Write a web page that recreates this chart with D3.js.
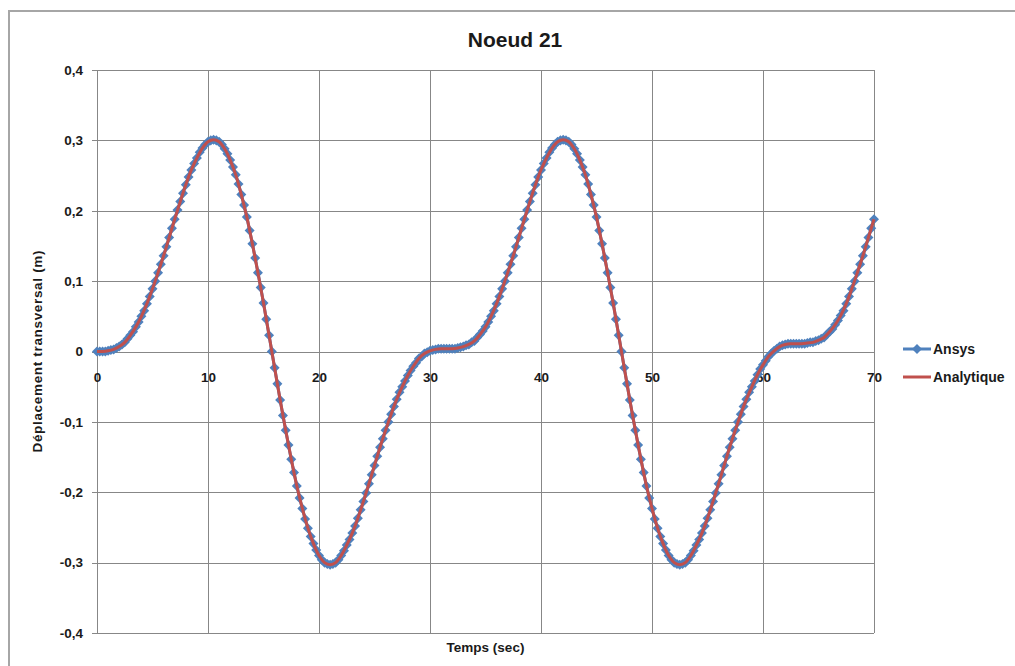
<!DOCTYPE html>
<html>
<head>
<meta charset="utf-8">
<script src="https://cdn.jsdelivr.net/npm/d3@7"></script>
<style>
  body { margin: 0; background: #fff; }
  svg text { font-family: 'Liberation Sans', Arial, sans-serif; font-weight: bold; fill: #1a1a1a; }
</style>
</head>
<body>
<script>
// Déplacement transversal, noeud 21
const title = 'Noeud 21';
const xTitle = 'Temps (sec)';
const yTitle = 'Déplacement transversal (m)';
const xTicks = [0, 10, 20, 30, 40, 50, 60, 70];
const yTicks = [-0.4, -0.3, -0.2, -0.1, 0, 0.1, 0.2, 0.3, 0.4];
const seriesNames = ['Ansys', 'Analytique'];

// Ansys : un point toutes les 0,25 s de 0 à 70 s
const ansysStep = 0.25;
const ansys = [
  0.000, 0.000, 0.000, 0.000, 0.001, 0.002, 0.003, 0.005, 0.007, 0.010,
  0.013, 0.018, 0.023, 0.028, 0.035, 0.042, 0.050, 0.058, 0.068, 0.078,
  0.089, 0.100, 0.112, 0.124, 0.136, 0.149, 0.162, 0.175, 0.188, 0.201,
  0.213, 0.225, 0.237, 0.248, 0.258, 0.267, 0.275, 0.283, 0.289, 0.294,
  0.298, 0.300, 0.301, 0.300, 0.298, 0.294, 0.288, 0.281, 0.272, 0.262,
  0.251, 0.238, 0.223, 0.208, 0.191, 0.172, 0.153, 0.133, 0.112, 0.091,
  0.069, 0.046, 0.023, 0.000, -0.023, -0.046, -0.069, -0.091, -0.112, -0.133,
  -0.153, -0.172, -0.191, -0.208, -0.223, -0.238, -0.251, -0.263, -0.273, -0.282,
  -0.290, -0.296, -0.300, -0.302, -0.303, -0.302, -0.300, -0.296, -0.290, -0.283,
  -0.275, -0.267, -0.258, -0.248, -0.237, -0.225, -0.213, -0.201, -0.188, -0.175,
  -0.162, -0.149, -0.136, -0.124, -0.112, -0.100, -0.089, -0.078, -0.068, -0.058,
  -0.050, -0.042, -0.034, -0.027, -0.021, -0.016, -0.010, -0.007, -0.003, -0.001,
  0.001, 0.002, 0.003, 0.004, 0.004, 0.004, 0.004, 0.004, 0.004, 0.004,
  0.005, 0.006, 0.007, 0.009, 0.010, 0.013, 0.015, 0.020, 0.024, 0.029,
  0.035, 0.042, 0.050, 0.058, 0.068, 0.078, 0.089, 0.100, 0.112, 0.124,
  0.136, 0.149, 0.162, 0.175, 0.188, 0.201, 0.213, 0.225, 0.237, 0.248,
  0.258, 0.267, 0.275, 0.283, 0.289, 0.294, 0.298, 0.300, 0.301, 0.300,
  0.298, 0.294, 0.288, 0.281, 0.272, 0.262, 0.251, 0.238, 0.223, 0.208,
  0.191, 0.172, 0.153, 0.133, 0.112, 0.091, 0.069, 0.046, 0.023, 0.000,
  -0.023, -0.046, -0.069, -0.091, -0.112, -0.133, -0.153, -0.172, -0.191, -0.208,
  -0.223, -0.238, -0.251, -0.263, -0.273, -0.282, -0.290, -0.296, -0.300, -0.302,
  -0.303, -0.302, -0.300, -0.296, -0.290, -0.283, -0.275, -0.267, -0.258, -0.248,
  -0.237, -0.225, -0.213, -0.201, -0.188, -0.175, -0.162, -0.149, -0.136, -0.124,
  -0.112, -0.100, -0.089, -0.078, -0.068, -0.058, -0.050, -0.042, -0.033, -0.025,
  -0.019, -0.013, -0.007, -0.003, 0.001, 0.004, 0.007, 0.009, 0.010, 0.011,
  0.011, 0.011, 0.011, 0.011, 0.011, 0.011, 0.012, 0.013, 0.013, 0.015,
  0.016, 0.018, 0.020, 0.024, 0.028, 0.032, 0.038, 0.044, 0.051, 0.058,
  0.068, 0.078, 0.089, 0.100, 0.112, 0.124, 0.136, 0.149, 0.162, 0.175,
  0.188
];

// Analytique : un point toutes les 0,5 s
const analytiqueStep = 0.5;
const analytique = [
  0.000, 0.000, 0.001, 0.003, 0.007, 0.013, 0.023, 0.035, 0.050, 0.068,
  0.089, 0.112, 0.136, 0.162, 0.188, 0.213, 0.237, 0.258, 0.275, 0.289,
  0.298, 0.301, 0.298, 0.288, 0.272, 0.251, 0.223, 0.191, 0.153, 0.112,
  0.069, 0.023, -0.023, -0.069, -0.112, -0.153, -0.191, -0.223, -0.251, -0.273,
  -0.290, -0.300, -0.303, -0.300, -0.290, -0.275, -0.258, -0.237, -0.213, -0.188,
  -0.162, -0.136, -0.112, -0.089, -0.068, -0.050, -0.034, -0.021, -0.010, -0.003,
  0.001, 0.003, 0.004, 0.004, 0.004, 0.005, 0.007, 0.010, 0.015, 0.024,
  0.035, 0.050, 0.068, 0.089, 0.112, 0.136, 0.162, 0.188, 0.213, 0.237,
  0.258, 0.275, 0.289, 0.298, 0.301, 0.298, 0.288, 0.272, 0.251, 0.223,
  0.191, 0.153, 0.112, 0.069, 0.023, -0.023, -0.069, -0.112, -0.153, -0.191,
  -0.223, -0.251, -0.273, -0.290, -0.300, -0.303, -0.300, -0.290, -0.275, -0.258,
  -0.237, -0.213, -0.188, -0.162, -0.136, -0.112, -0.089, -0.068, -0.050, -0.033,
  -0.019, -0.007, 0.001, 0.007, 0.010, 0.011, 0.011, 0.011, 0.012, 0.013,
  0.016, 0.020, 0.028, 0.038, 0.051, 0.068, 0.089, 0.112, 0.136, 0.162,
  0.188
];

const width = 1015;
const height = 666;
const plot = { left: 97, right: 874, top: 70, bottom: 633 };
const blue = '#4f81bd';
const red = '#c0504d';
const grid = '#878787';

const svg = d3.select('body')
  .append('svg')
  .attr('width', width)
  .attr('height', height);

svg.append('rect')
  .attr('width', width)
  .attr('height', height)
  .attr('fill', '#fff');

// Chart frame
svg.append('rect')
  .attr('x', 9)
  .attr('y', 11)
  .attr('width', width + 20)
  .attr('height', height + 20)
  .attr('fill', 'none')
  .attr('stroke', '#a6a6a6')
  .attr('stroke-width', 2);

const x = d3.scaleLinear().domain([0, 70]).range([plot.left, plot.right]);
const y = d3.scaleLinear().domain([-0.4, 0.4]).range([plot.bottom, plot.top]);

// Grid
const gx = svg.append('g')
  .attr('transform', `translate(0, ${plot.bottom})`)
  .call(d3.axisBottom(x).tickValues(xTicks).tickSize(-(plot.bottom - plot.top)).tickFormat(''));
const gy = svg.append('g')
  .attr('transform', `translate(${plot.left}, 0)`)
  .call(d3.axisLeft(y).tickValues(yTicks).tickSize(-(plot.right - plot.left)).tickFormat(''));
[gx, gy].forEach(g => {
  g.select('.domain').remove();
  g.selectAll('line').attr('stroke', grid).attr('stroke-width', 1).attr('shape-rendering', 'crispEdges');
});

// Y axis with ticks and labels (virgule décimale, tiret simple)
const fmt = d => d === 0 ? '0' : d3.format('.1f')(d).replace('.', ',').replace('\u2212', '-');
const yAxis = svg.append('g')
  .attr('transform', `translate(${plot.left}, 0)`)
  .call(d3.axisLeft(y).tickValues(yTicks).tickSize(5).tickPadding(9).tickFormat(fmt));
yAxis.select('.domain').attr('stroke', grid).attr('shape-rendering', 'crispEdges');
yAxis.selectAll('line').attr('stroke', grid).attr('shape-rendering', 'crispEdges');
yAxis.selectAll('text')
  .style('font-size', '13.5px')
  .attr('fill', '#1a1a1a');

// X axis crossing at zero
const xAxis = svg.append('g')
  .attr('transform', `translate(0, ${y(0)})`)
  .call(d3.axisBottom(x).tickValues(xTicks).tickSize(0).tickPadding(21).tickFormat(d3.format('d')));
xAxis.select('.domain').attr('stroke', grid).attr('shape-rendering', 'crispEdges');
xAxis.selectAll('text')
  .style('font-size', '13.5px')
  .attr('fill', '#1a1a1a');

// Series
const ansysPts = ansys.map((v, i) => [i * ansysStep, v]);
const analytiquePts = analytique.map((v, i) => [i * analytiqueStep, v]);

const line = d3.line()
  .x(d => x(d[0]))
  .y(d => y(d[1]));

svg.append('path')
  .datum(ansysPts)
  .attr('fill', 'none')
  .attr('stroke', blue)
  .attr('stroke-width', 3)
  .attr('d', line);

const diamond = d3.symbol().type(d3.symbolDiamond2).size(64);

svg.append('g')
  .selectAll('path')
  .data(ansysPts)
  .enter()
  .append('path')
  .attr('transform', d => `translate(${x(d[0])}, ${y(d[1])})`)
  .attr('d', diamond)
  .attr('fill', blue);

svg.append('path')
  .datum(analytiquePts)
  .attr('fill', 'none')
  .attr('stroke', red)
  .attr('stroke-width', 3)
  .attr('d', line.curve(d3.curveCatmullRom));

// Titles
svg.append('text')
  .attr('x', 515)
  .attr('y', 47)
  .attr('text-anchor', 'middle')
  .style('font-size', '21px')
  .text(title);

svg.append('text')
  .attr('x', (plot.left + plot.right) / 2)
  .attr('y', 652)
  .attr('text-anchor', 'middle')
  .style('font-size', '13.5px')
  .text(xTitle);

svg.append('text')
  .attr('transform', `translate(42, ${y(0)}) rotate(-90)`)
  .attr('text-anchor', 'middle')
  .attr('textLength', 202)
  .attr('lengthAdjust', 'spacing')
  .style('font-size', '13.5px')
  .text(yTitle);

// Legend
const leg = svg.append('g').attr('id', 'legend');
const legY = [349, 377];
const legColors = [blue, red];

seriesNames.forEach((name, i) => {
  leg.append('line')
    .attr('x1', 903)
    .attr('x2', 931)
    .attr('y1', legY[i])
    .attr('y2', legY[i])
    .attr('stroke', legColors[i])
    .attr('stroke-width', 3);
  leg.append('text')
    .attr('x', 933)
    .attr('y', legY[i] + 5)
    .style('font-size', '14px')
    .text(name);
});

leg.append('path')
  .attr('transform', `translate(917, ${legY[0]})`)
  .attr('d', diamond)
  .attr('fill', blue);
</script>
</body>
</html>
